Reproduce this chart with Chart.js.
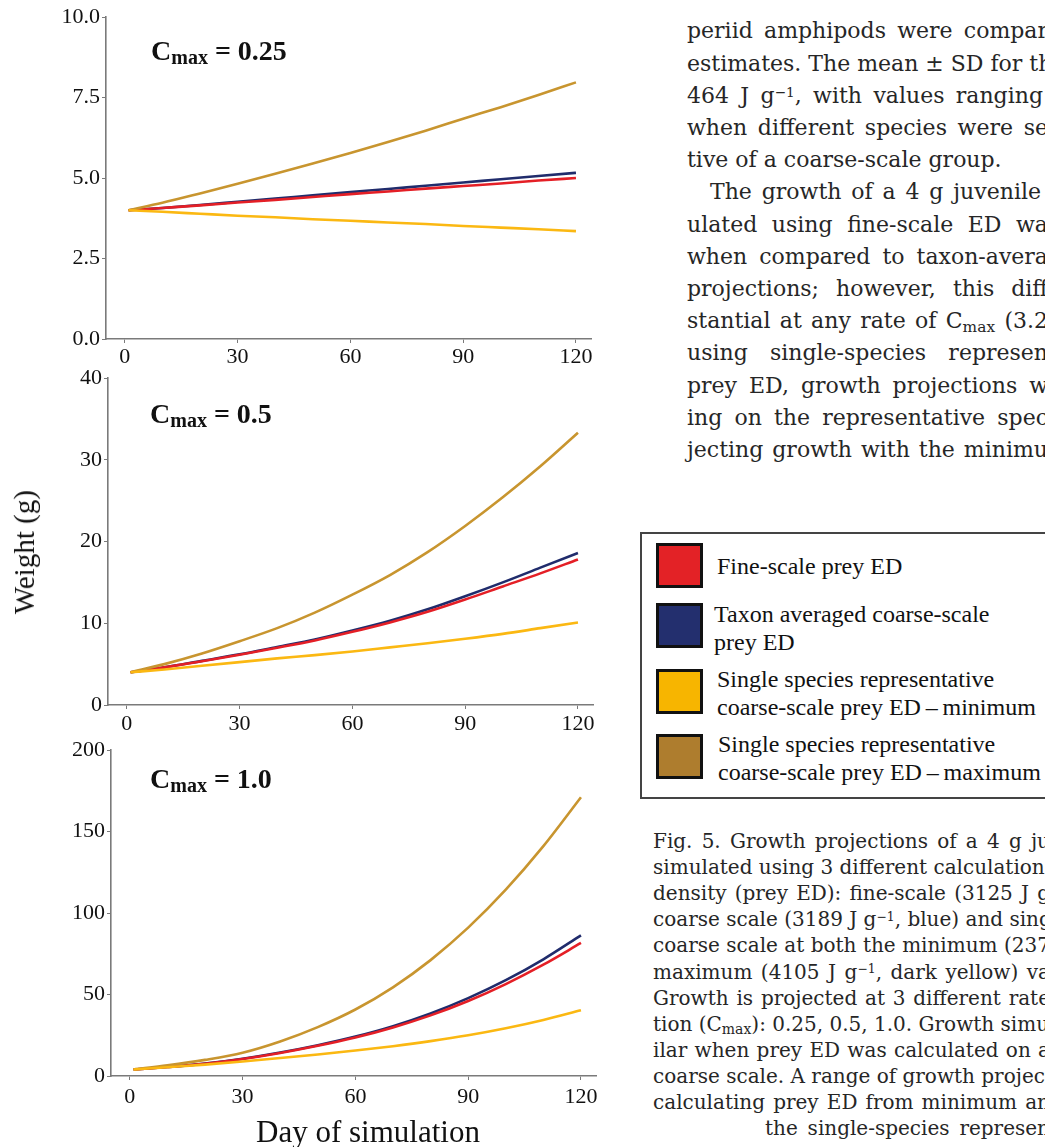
<!DOCTYPE html>
<html>
<head>
<meta charset="utf-8">
<script src="https://cdn.jsdelivr.net/npm/chart.js@4.4.1/dist/chart.umd.min.js"></script>
<style>
  html, body { margin: 0; padding: 0; background: #fff; }
  body { width: 1045px; height: 1147px; overflow: hidden; position: relative; }
  canvas { position: absolute; left: 0; }
  .txt { position: absolute; white-space: nowrap; line-height: 0; height: 0; }
  .serif { font-family: "Liberation Serif", serif; color: #111; }
  .slab { font-family: "DejaVu Serif", serif; color: #262626; }
  .just { text-align: justify; text-align-last: justify; }
  .sup { position: relative; top: -0.45em; font-size: 0.62em; }
  .sub { position: relative; top: 0.22em; font-size: 0.7em; }
  .cmax { font-weight: bold; font-size: 28px; }
  .cmax .sub { font-size: 20px; top: 4px; }
  #legendBox { position: absolute; left: 640px; top: 532px; width: 420px; height: 263px; border: 2px solid #444; }
  .swatch { position: absolute; left: 656px; width: 41px; height: 39px; border: 3px solid #111; }
</style>
</head>
<body>
<canvas id="c025" width="610" height="372" style="top:0px"></canvas>
<canvas id="c05" width="610" height="380" style="top:360px"></canvas>
<canvas id="c10" width="610" height="417" style="top:730px"></canvas>
<div id="legendBox"></div>
<div id="texts"></div>
<script>
// days on the x axis and tick labels
const days = [1, 10, 20, 30, 40, 50, 60, 70, 80, 90, 100, 110, 120];
const xTicks = [0, 30, 60, 90, 120];

const seriesNames = [
  'Fine-scale prey ED',
  'Taxon averaged coarse-scale prey ED',
  'Single species representative coarse-scale prey ED \u2013 minimum',
  'Single species representative coarse-scale prey ED \u2013 maximum'
];
const lineColors = ['#E41F26', '#202C6C', '#FBB812', '#C8952F'];
const swatchColors = ['#E32226', '#232F6E', '#F7B500', '#AE7D2E'];

// Cmax = 0.25
const fine025 = [4.0, 4.07, 4.15, 4.24, 4.32, 4.41, 4.5, 4.58, 4.67, 4.75, 4.83, 4.92, 5.0];
const taxon025 = [4.0, 4.07, 4.16, 4.26, 4.36, 4.46, 4.56, 4.66, 4.76, 4.86, 4.96, 5.06, 5.16];
const min025 = [4.0, 3.95, 3.89, 3.83, 3.78, 3.72, 3.67, 3.62, 3.57, 3.51, 3.46, 3.41, 3.35];
const max025 = [4.0, 4.23, 4.52, 4.82, 5.13, 5.45, 5.78, 6.12, 6.47, 6.84, 7.2, 7.58, 7.97];
const yTicks025 = [0, 2.5, 5, 7.5, 10];
const yLabels025 = ['0.0', '2.5', '5.0', '7.5', '10.0'];

// Cmax = 0.5
const fine05 = [4.0, 4.6, 5.35, 6.15, 7.0, 7.9, 8.95, 10.1, 11.4, 12.9, 14.5, 16.1, 17.8];
const taxon05 = [4.0, 4.6, 5.4, 6.2, 7.1, 8.0, 9.1, 10.3, 11.7, 13.3, 15.0, 16.8, 18.6];
const min05 = [4.0, 4.35, 4.8, 5.25, 5.7, 6.1, 6.55, 7.05, 7.55, 8.1, 8.7, 9.4, 10.1];
const max05 = [4.0, 5.0, 6.3, 7.8, 9.4, 11.3, 13.5, 15.9, 18.7, 21.9, 25.4, 29.2, 33.3];
const yTicks05 = [0, 10, 20, 30, 40];
const yLabels05 = ['0', '10', '20', '30', '40'];

// Cmax = 1.0
const fine10 = [4.0, 5.5, 7.5, 10.4, 14.1, 18.5, 23.6, 29.8, 37.2, 46.0, 56.4, 68.3, 81.6];
const taxon10 = [4.0, 5.5, 7.6, 10.6, 14.4, 18.9, 24.2, 30.6, 38.4, 47.8, 58.8, 71.6, 86.3];
const min10 = [4.0, 5.4, 7.0, 8.9, 11.0, 13.2, 15.6, 18.3, 21.4, 25.0, 29.3, 34.4, 40.4];
const max10 = [4.0, 6.5, 9.9, 14.3, 21.2, 30.0, 40.8, 54.4, 71.1, 91.0, 114.3, 141.0, 171.0];
const yTicks10 = [0, 50, 100, 150, 200];
const yLabels10 = ['0', '50', '100', '150', '200'];

const tickFont = { family: 'Liberation Serif', size: 22 };
const axisGray = '#7a7a7a';

function growthChart(id, fine, taxon, min, max, yTicks, yLabels, geo) {
  const pts = arr => days.map((d, i) => ({ x: d, y: arr[i] }));
  const ds = (i, arr) => ({
    label: seriesNames[i],
    data: pts(arr),
    borderColor: lineColors[i],
    backgroundColor: lineColors[i]
  });
  return new Chart(document.getElementById(id), {
    type: 'line',
    data: { datasets: [ds(2, min), ds(3, max), ds(0, fine), ds(1, taxon)] },
    options: {
      responsive: false,
      animation: false,
      events: [],
      layout: { padding: { top: geo.top, right: geo.right, left: 0, bottom: 0 } },
      elements: {
        point: { radius: 0 },
        line: { borderWidth: 2.6, cubicInterpolationMode: 'monotone', fill: false }
      },
      plugins: { legend: { display: false }, tooltip: { enabled: false } },
      scales: {
        x: {
          type: 'linear',
          min: -5,
          max: 124,
          afterFit: s => { s.height = geo.xh },
          afterBuildTicks: s => { s.ticks = xTicks.map(v => ({ value: v })) },
          grid: { drawOnChartArea: false, tickLength: 4, color: axisGray, lineWidth: 1 },
          border: { display: true, color: axisGray, width: 1.6 },
          ticks: { font: tickFont, color: '#111', padding: geo.xpad, maxRotation: 0, callback: v => String(v) }
        },
        y: {
          type: 'linear',
          min: yTicks[0],
          max: yTicks[yTicks.length - 1],
          afterFit: s => { s.width = geo.yw },
          afterBuildTicks: s => { s.ticks = yTicks.map(v => ({ value: v })) },
          grid: { drawOnChartArea: false, tickLength: 4, color: axisGray, lineWidth: 1 },
          border: { display: true, color: axisGray, width: 1.6 },
          ticks: { font: tickFont, color: '#111', padding: 2, callback: (v, i) => yLabels[i] }
        }
      }
    }
  });
}

growthChart('c025', fine025, taxon025, min025, max025, yTicks025, yLabels025,
  { top: 17, right: 19, xh: 33, yw: 106, xpad: 1 });
growthChart('c05', fine05, taxon05, min05, max05, yTicks05, yLabels05,
  { top: 18, right: 17, xh: 35, yw: 108, xpad: 2 });
growthChart('c10', fine10, taxon10, min10, max10, yTicks10, yLabels10,
  { top: 20, right: 14, xh: 71, yw: 111, xpad: 4 });

// text placed by baseline
const holder = document.getElementById('texts');
function putText(html, x, base, size, cls, right) {
  const d = document.createElement('div');
  const k = cls.indexOf('slab') >= 0 ? 0.346 : 0.3375;
  d.className = 'txt ' + cls;
  d.style.fontSize = size + 'px';
  d.style.left = x + 'px';
  d.style.top = (base - k * size) + 'px';
  if (right) { d.style.width = (right - x) + 'px'; d.classList.add('just') }
  d.innerHTML = html;
  holder.appendChild(d);
  return d;
}

// panel labels
const cmax = v => 'C<span class="sub">max</span> = ' + v;
putText(cmax('0.25'), 151, 60, 28, 'serif cmax');
putText(cmax('0.5'), 150, 423, 28, 'serif cmax');
putText(cmax('1.0'), 150, 788, 28, 'serif cmax');

// axis titles
const xt = putText('Day of simulation', 168, 1142, 31, 'serif');
xt.style.width = '400px'; xt.style.textAlign = 'center';
const yt = putText('Weight (g)', -76, 561.5, 29, 'serif');
yt.style.top = '561.5px';
yt.style.width = '200px'; yt.style.textAlign = 'center';
yt.style.transformOrigin = '100px 0px';
yt.style.transform = 'translateY(-9.8px) rotate(-90deg)';

// legend
const swTops = [543, 603, 669, 734];
swTops.forEach((t, i) => {
  const s = document.createElement('div');
  s.className = 'swatch';
  s.style.top = t + 'px';
  s.style.background = swatchColors[i];
  document.body.appendChild(s);
});
const legendLines = [
  ['Fine-scale prey ED', 717, 574],
  ['Taxon averaged coarse-scale', 714, 622],
  ['prey ED', 714, 650],
  ['Single species representative', 717, 687],
  ['coarse-scale prey ED\u2009\u2013\u2009minimum', 717, 715],
  ['Single species representative', 718, 752],
  ['coarse-scale prey ED\u2009\u2013\u2009maximum', 718, 780]
];
legendLines.forEach(l => putText(l[0], l[1], l[2], 24, 'serif'));

// body text column
const m1 = '<span class="sup">\u22121</span>';
const bodyLines = [
  ['periid amphipods were compar', 687, 1048],
  ['estimates. The mean \u00b1 SD for th', 687, 1048],
  ['464 J g' + m1 + ', with values ranging', 687, 1043],
  ['when different species were se', 687, 1048],
  ['tive of a coarse-scale group.', 687, 0],
  ['The growth of a 4 g juvenile', 710, 1041],
  ['ulated using fine-scale ED wa', 687, 1048],
  ['when compared to taxon-avera', 687, 1048],
  ['projections; however, this diff', 687, 1048],
  ['stantial at any rate of C<span class="sub">max</span> (3.2', 687, 1048],
  ['using single-species represen', 687, 1048],
  ['prey ED, growth projections w', 687, 1048],
  ['ing on the representative spec', 687, 1048],
  ['jecting growth with the minimu', 687, 1048]
];
bodyLines.forEach((l, i) => putText(l[0], l[1], 39 + 32.2 * i, 22, 'slab', l[2]));

const captionLines = [
  ['Fig. 5. Growth projections of a 4 g ju', 653, 1050],
  ['simulated using 3 different calculation', 653, 1043],
  ['density (prey ED): fine-scale (3125 J g', 653, 1050],
  ['coarse scale (3189 J g' + m1 + ', blue) and singl', 653, 1050],
  ['coarse scale at both the minimum (237', 653, 1050],
  ['maximum (4105 J g' + m1 + ', dark yellow) va', 653, 1050],
  ['Growth is projected at 3 different rate', 653, 1050],
  ['tion (C<span class="sub">max</span>): 0.25, 0.5, 1.0. Growth simul', 653, 1050],
  ['ilar when prey ED was calculated on a', 653, 1050],
  ['coarse scale. A range of growth project', 653, 1050],
  ['calculating prey ED from minimum an', 653, 1050],
  ['the single-species represen', 765, 1050]
];
captionLines.forEach((l, i) => putText(l[0], l[1], 848 + 26.1 * i, 20, 'slab', l[2]));
</script>
</body>
</html>
